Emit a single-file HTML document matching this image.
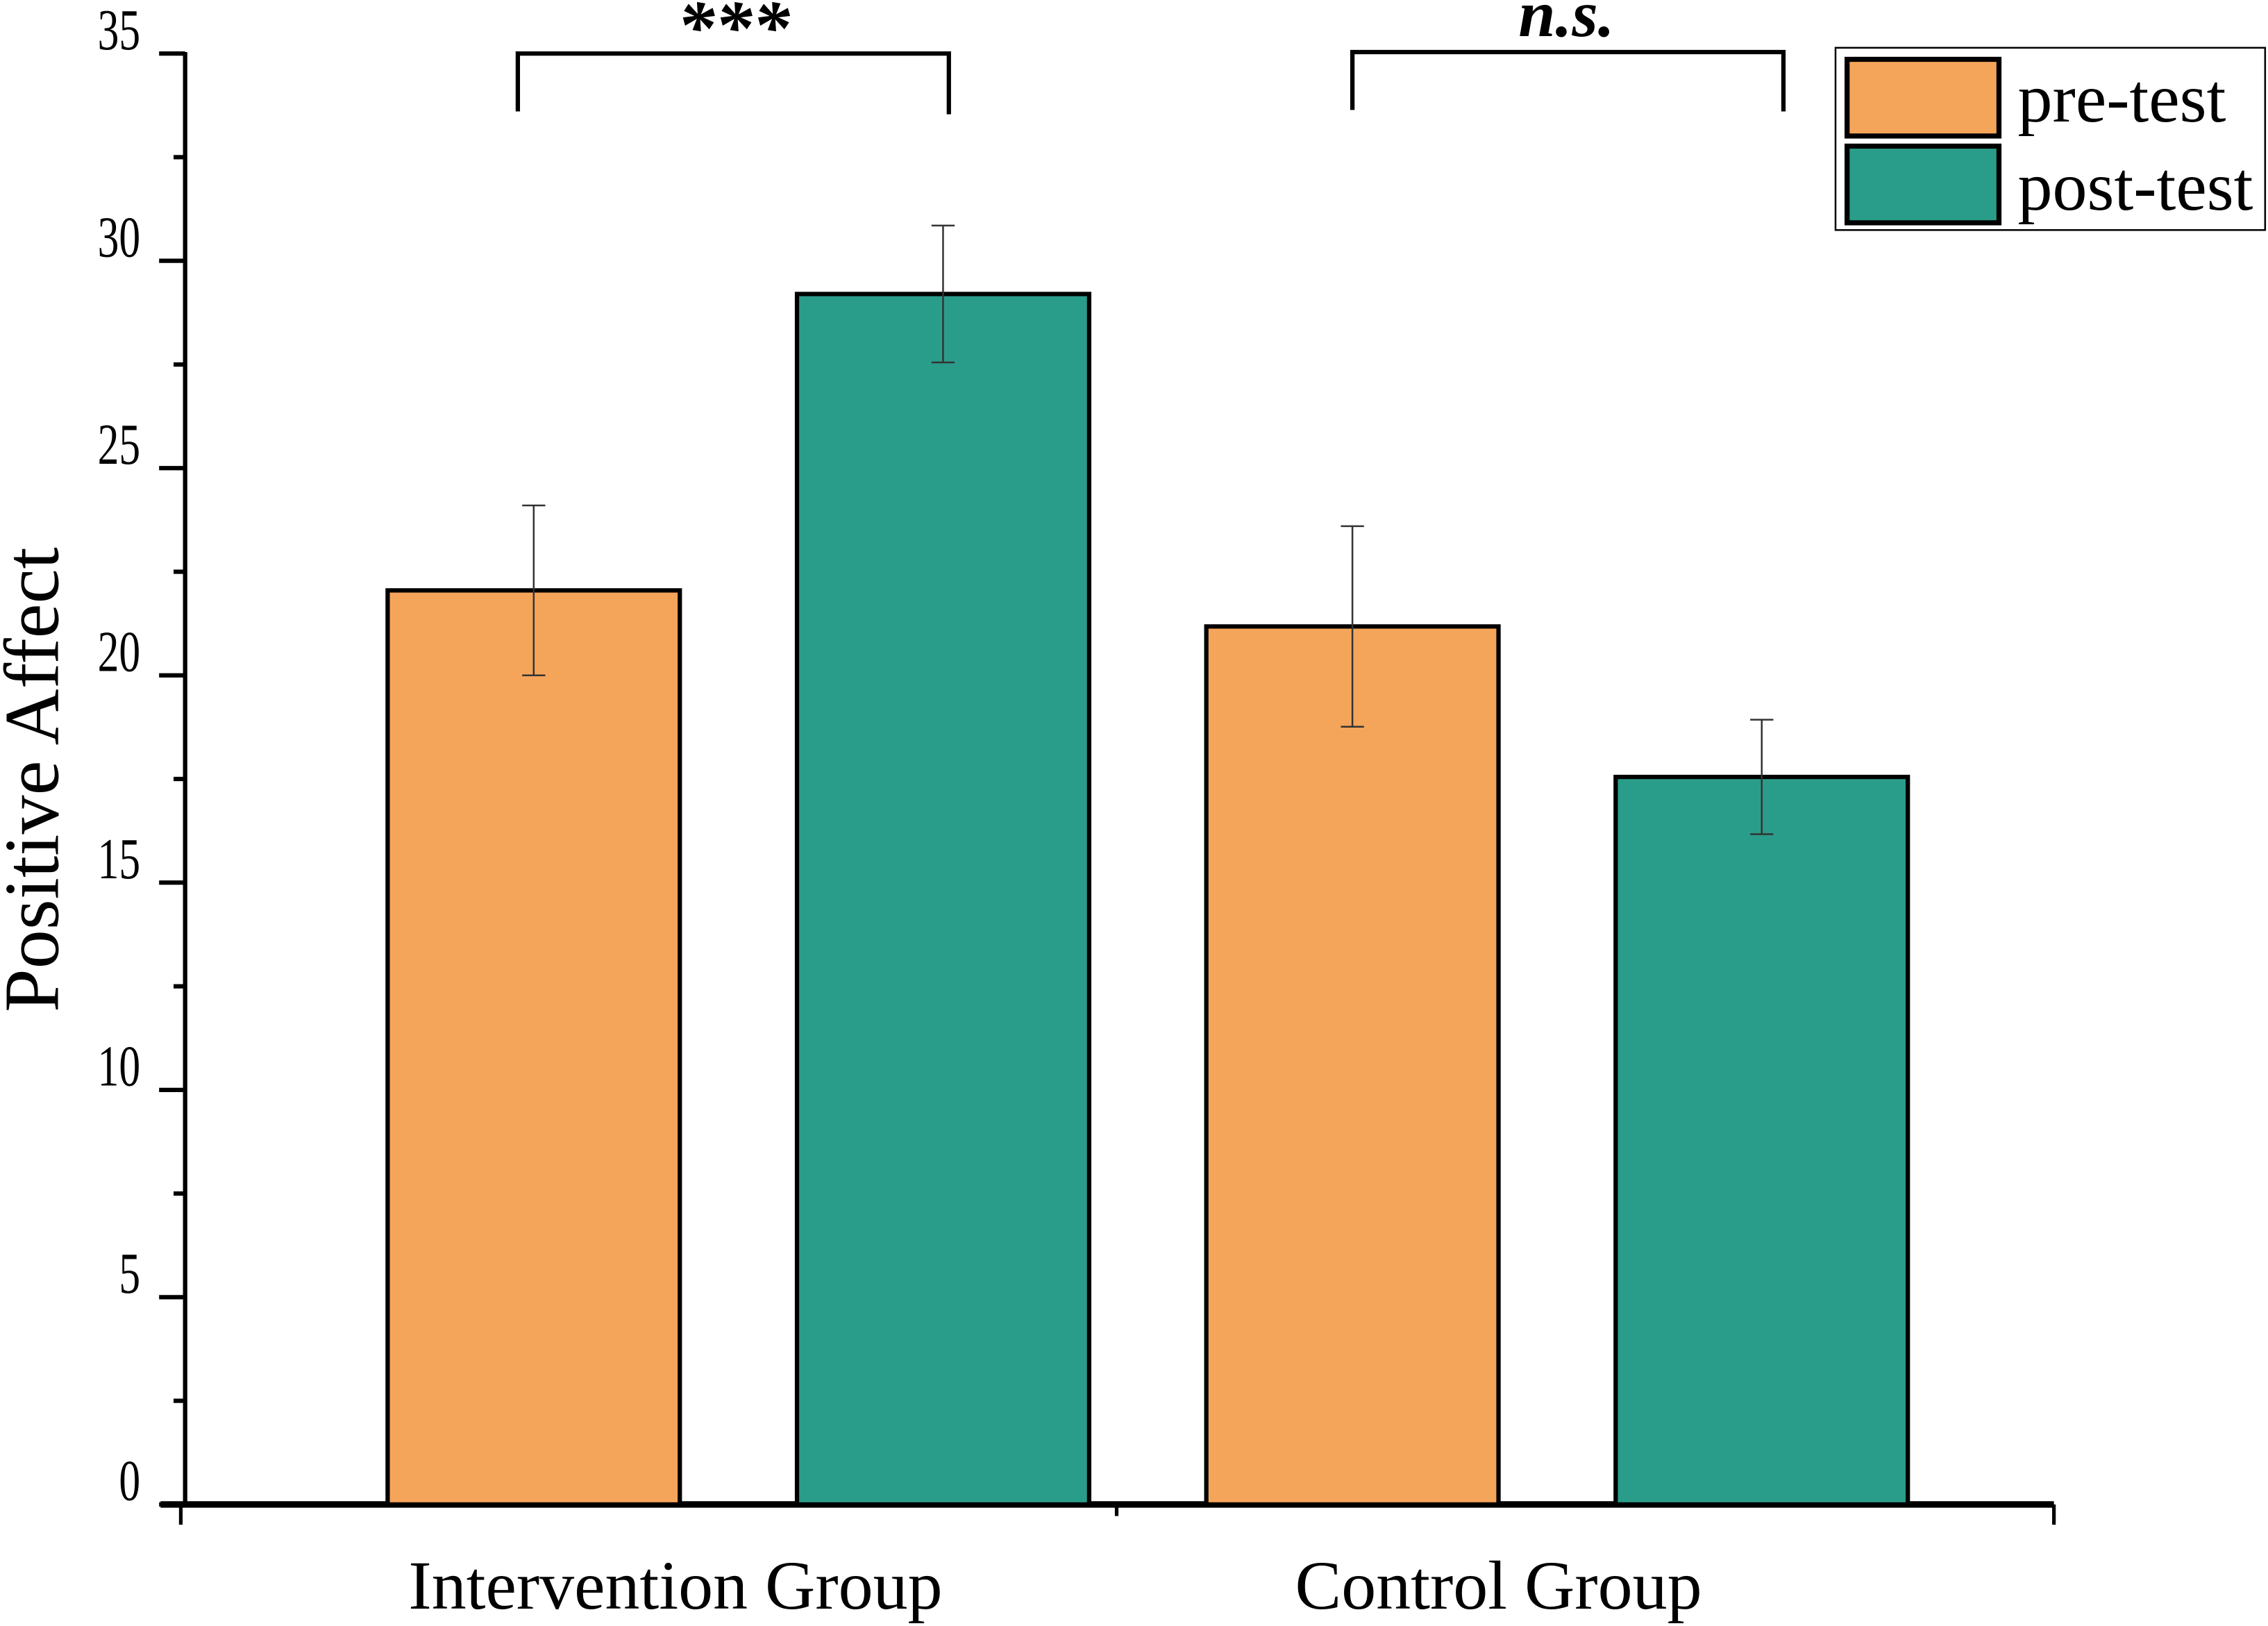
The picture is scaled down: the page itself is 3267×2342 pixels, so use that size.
<!DOCTYPE html>
<html><head><meta charset="utf-8"><style>html,body{margin:0;padding:0;background:#fff}svg{display:block}</style></head>
<body>
<svg id="chart" width="3267" height="2342" viewBox="0 0 1568 1124" xmlns="http://www.w3.org/2000/svg" font-family="'Liberation Serif', serif">
<g id="axes"></g><g id="bars"></g><g id="errs"></g>
<g fill="none" stroke="#000" stroke-width="3"><path d="M358,77 V37 H656 V79"/></g>
<text x="507" y="36" text-anchor="middle" font-size="52" font-weight="bold" font-style="italic">***</text>
<g fill="none" stroke="#000" stroke-width="3"><path d="M935,76 V36 H1233 V77"/></g>
<text x="1083" y="25" text-anchor="middle" font-size="46" font-weight="bold" font-style="italic">n.s.</text>
<g>
<rect x="1269" y="33" width="297" height="126" fill="#fff" stroke="#000" stroke-width="1.2"/>
<rect x="1277" y="41" width="105" height="53" fill="#F5A55A" stroke="#000" stroke-width="3.5"/>
<text x="1395" y="84" font-size="48">pre-test</text>
<rect x="1277" y="101" width="105" height="53" fill="#2A9C8A" stroke="#000" stroke-width="3.5"/>
<text x="1395" y="145" font-size="48">post-test</text>
</g>
<text transform="translate(40,539) rotate(-90)" text-anchor="middle" font-size="54">Positive Affect</text>
<script>
const groups = ["Intervention Group", "Control Group"];
const preValues = [22.05, 21.18];
const postValues = [29.2, 17.55];
const preErrors = [2.05, 2.42];
const postErrors = [1.65, 1.38];
const yTicks = [0, 5, 10, 15, 20, 25, 30, 35];

const NS = "http://www.w3.org/2000/svg";
const y0 = 1040, yTop = 37, yMax = 35;
const yScale = v => y0 - (v / yMax) * (y0 - yTop);
const xLeft = 125, xRight = 1420;
const barW = 202;
const barCenter = (gi, s) => 369 + (gi * 2 + s) * 283;
const groupCenter = gi => 467 + gi * 569;
function mk(tag, attrs, parent) { const e = document.createElementNS(NS, tag); for (const k in attrs) e.setAttribute(k, attrs[k]); parent.appendChild(e); return e; }

const axes = document.getElementById('axes');
for (let v = 0; v <= yMax; v += 2.5) {
  const major = v % 5 === 0;
  const t = mk('line', {x1: major ? 110 : 120, x2: 128, y1: yScale(v), y2: yScale(v), stroke: '#000', 'stroke-width': 3}, axes);
  
  
}
yTicks.forEach(v => {
  const t = mk('text', {transform: 'translate(97,' + (yScale(v) - 3) + ') scale(0.82,1.12)', 'text-anchor': 'end', 'font-size': 36}, axes);
  t.textContent = v;
  
  
});
const ya = mk('line', {x1: 128, x2: 128, y1: yTop - 1, y2: y0 + 2, stroke: '#000', 'stroke-width': 3}, axes);



const bars = document.getElementById('bars');
const errs = document.getElementById('errs');
groups.forEach((g, gi) => {
  [[preValues, preErrors, '#F5A55A', 'pre'], [postValues, postErrors, '#2A9C8A', 'post']].forEach((s, si) => {
    const v = s[0][gi], e = s[1][gi], cx = barCenter(gi, si);
    const r = mk('rect', {x: cx - barW / 2, y: yScale(v), width: barW, height: y0 - yScale(v), fill: s[2], stroke: '#000', 'stroke-width': 3}, bars);
    
    
    const eg = mk('g', {stroke: '#333', 'stroke-width': 1.2}, errs);
    
    
    mk('line', {x1: cx, x2: cx, y1: yScale(v + e), y2: yScale(v - e)}, eg);
    mk('line', {x1: cx - 8, x2: cx + 8, y1: yScale(v + e), y2: yScale(v + e)}, eg);
    mk('line', {x1: cx - 8, x2: cx + 8, y1: yScale(v - e), y2: yScale(v - e)}, eg);
  });
  const lbl = mk('text', {x: groupCenter(gi), y: 1112, 'text-anchor': 'middle', 'font-size': 48}, axes);
  lbl.textContent = g;
  
  
});
const xa = mk('line', {x1: 111, x2: xRight, y1: y0, y2: y0, stroke: '#000', 'stroke-width': 4.5}, axes);


[125, 772, 1420].forEach((x, i) => {
  const t = mk('line', {x1: x, x2: x, y1: y0, y2: i === 1 ? 1048 : 1054, stroke: '#000', 'stroke-width': 2.5}, axes);
  
  
});
</script>
</svg>
</body></html>
